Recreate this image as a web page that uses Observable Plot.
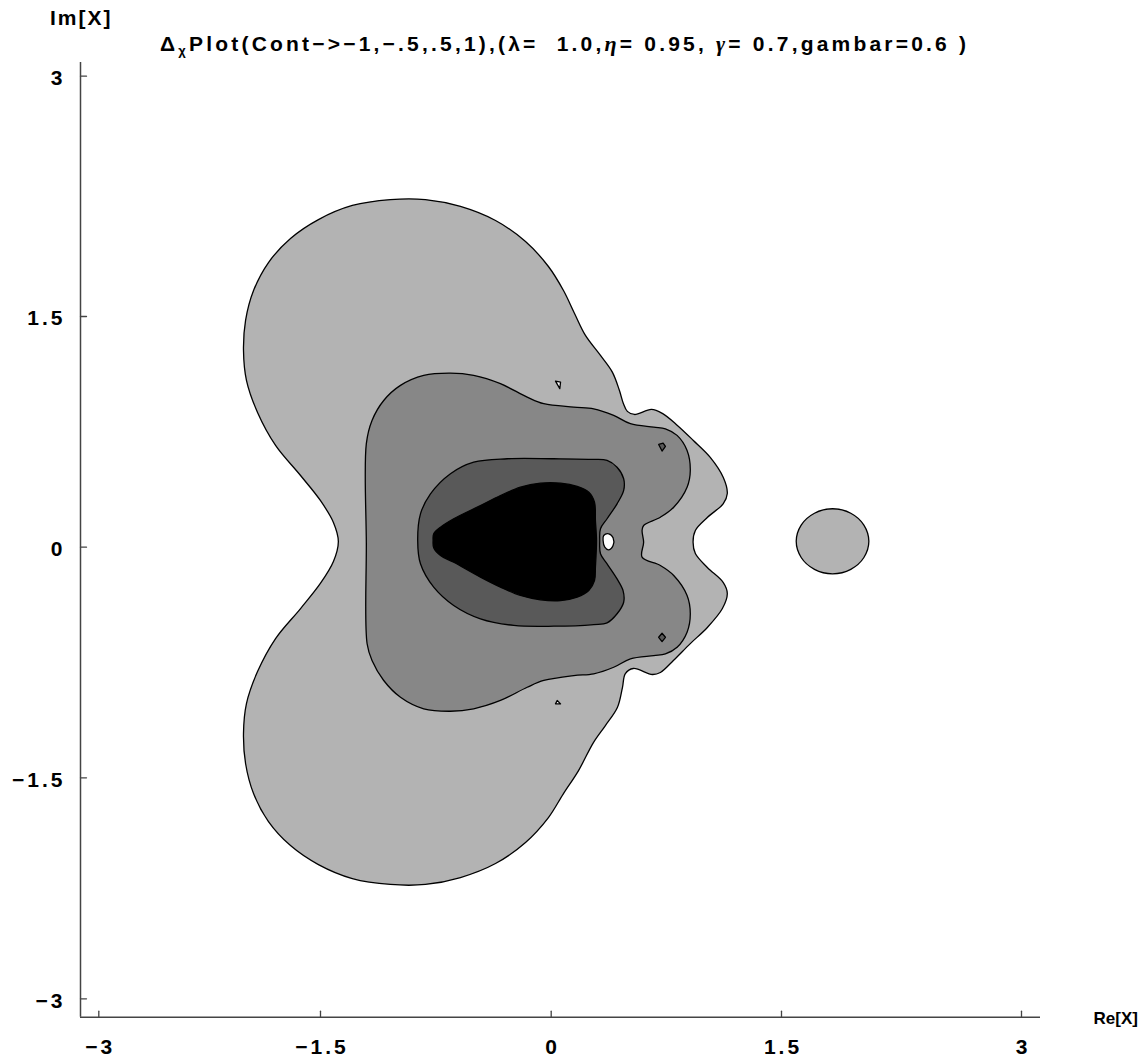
<!DOCTYPE html>
<html><head><meta charset="utf-8">
<script src="https://cdn.jsdelivr.net/npm/d3@7"></script>
<script src="https://cdn.jsdelivr.net/npm/@observablehq/plot@0.6"></script>
<style>
body{margin:0;background:#fff;}
#wrap{position:relative;width:1142px;height:1064px;}
#head{position:relative;height:60px;font-family:"Liberation Sans",Arial,sans-serif;font-weight:bold;white-space:pre;}
#im{position:absolute;left:50px;top:6px;font-size:21px;letter-spacing:2px;}
#title{position:absolute;left:160px;top:31px;font-size:21px;letter-spacing:3.2px;}
#title sub{font-size:13px;vertical-align:-4px;}
#title i{font-style:italic;font-family:"Liberation Serif",serif;font-size:22px;}
#chart text{letter-spacing:3px;}
#chart .rel text{letter-spacing:0px;}
</style></head><body>
<div id="wrap">
<div id="head"><span id="im">Im[X]</span><span id="title">Δ<sub>χ</sub>Plot(Cont−&gt;−1,−.5,.5,1),(λ=  1.0,<i>η</i>= 0.95, <i>γ</i>= 0.7,gambar=0.6 )</span></div>
<div id="chart"></div>
</div>
<script>
// axis ticks and labels
const xTicks = [-3, -1.5, 0, 1.5, 3];
const xTickLabels = ["−3", "−1.5", "0", "1.5", "3"];
const yTicks = [-3, -1.5, 0, 1.5, 3];
const yTickLabels = ["−3", "−1.5", "0", "1.5", "3"];
const plotRangeX = [-3.124, 3.119];
const plotRangeY = [-3.125, 3.086];
const contourLevels = [-1, -0.5, 0.5, 1];

// contour outlines [Re, Im]
const contourLight = [
[-1.384,0.037],[-1.416,0.161],[-1.501,0.304],[-1.635,0.466],[-1.804,0.662],[-1.926,0.876],[-2.001,1.085],[-2.021,1.280],[-2.007,1.475],[-1.953,1.662],[-1.852,1.837],[-1.703,1.987],[-1.514,2.105],[-1.293,2.193],[-1.046,2.230],[-0.818,2.230],[-0.590,2.187],[-0.362,2.099],[-0.167,1.968],[-0.018,1.812],[0.080,1.662],[0.152,1.519],[0.223,1.377],[0.321,1.247],[0.399,1.137],[0.444,1.020],[0.470,0.935],[0.496,0.883],[0.542,0.863],[0.653,0.896],[0.724,0.870],[0.822,0.792],[0.926,0.694],[1.036,0.584],[1.121,0.453],[1.147,0.349],[1.121,0.284],[1.017,0.193],[0.939,0.109],[0.924,0.033],[0.939,-0.041],[1.017,-0.132],[1.121,-0.230],[1.147,-0.301],[1.115,-0.399],[1.017,-0.522],[0.906,-0.627],[0.796,-0.737],[0.711,-0.815],[0.659,-0.828],[0.535,-0.789],[0.483,-0.822],[0.464,-0.913],[0.431,-1.043],[0.353,-1.160],[0.275,-1.271],[0.178,-1.453],[0.080,-1.607],[-0.018,-1.770],[-0.167,-1.939],[-0.362,-2.082],[-0.590,-2.177],[-0.818,-2.224],[-1.046,-2.224],[-1.293,-2.184],[-1.514,-2.089],[-1.703,-1.960],[-1.852,-1.797],[-1.953,-1.607],[-2.007,-1.407],[-2.021,-1.212],[-2.001,-1.017],[-1.926,-0.809],[-1.804,-0.594],[-1.635,-0.399],[-1.501,-0.236],[-1.416,-0.093]
];
const contourLightIsland = [
[2.046,0.038],[2.015,0.144],[1.933,0.221],[1.819,0.250],[1.706,0.221],[1.623,0.144],[1.592,0.038],[1.623,-0.067],[1.706,-0.144],[1.819,-0.173],[1.933,-0.144],[2.015,-0.067]
];
const contourMedium = [
[-1.202,0.673],[-1.165,0.824],[-1.089,0.954],[-0.980,1.052],[-0.829,1.117],[-0.655,1.132],[-0.504,1.117],[-0.330,1.063],[-0.156,0.976],[-0.048,0.933],[0.147,0.911],[0.277,0.900],[0.407,0.857],[0.516,0.803],[0.668,0.781],[0.744,0.770],[0.820,0.727],[0.885,0.629],[0.906,0.499],[0.885,0.390],[0.798,0.260],[0.711,0.195],[0.602,0.141],[0.592,0.109],[0.602,0.033],[0.592,-0.065],[0.711,-0.119],[0.798,-0.184],[0.885,-0.314],[0.906,-0.433],[0.885,-0.553],[0.820,-0.651],[0.744,-0.694],[0.668,-0.705],[0.516,-0.726],[0.407,-0.781],[0.277,-0.824],[0.147,-0.835],[-0.048,-0.867],[-0.156,-0.911],[-0.330,-0.997],[-0.504,-1.051],[-0.655,-1.067],[-0.829,-1.051],[-0.980,-0.976],[-1.089,-0.867],[-1.165,-0.737],[-1.197,-0.628],[-1.202,0.022]
];
const contourDark = [
[-0.286,0.575],[-0.504,0.553],[-0.655,0.478],[-0.785,0.347],[-0.850,0.217],[-0.868,0.044],[-0.850,-0.108],[-0.764,-0.260],[-0.634,-0.379],[-0.460,-0.466],[-0.243,-0.509],[0.017,-0.514],[0.277,-0.503],[0.364,-0.492],[0.429,-0.433],[0.472,-0.358],[0.468,-0.282],[0.429,-0.206],[0.364,-0.108],[0.321,-0.043],[0.316,0.044],[0.321,0.120],[0.364,0.185],[0.429,0.282],[0.472,0.369],[0.472,0.445],[0.429,0.520],[0.364,0.564],[0.277,0.571],[0.017,0.575]
];
const contourBlack = [
[-0.768,0.044],[-0.764,0.087],[-0.720,0.130],[-0.634,0.185],[-0.460,0.271],[-0.330,0.336],[-0.200,0.390],[-0.070,0.416],[0.061,0.416],[0.169,0.395],[0.245,0.358],[0.282,0.293],[0.288,0.174],[0.295,0.044],[0.288,-0.130],[0.282,-0.217],[0.245,-0.282],[0.169,-0.325],[0.061,-0.347],[-0.070,-0.342],[-0.200,-0.314],[-0.330,-0.260],[-0.460,-0.195],[-0.634,-0.098],[-0.720,-0.054],[-0.764,-0.004]
];
const holeCenter = [[0.342,0.076],[0.375,0.087],[0.403,0.061],[0.403,0.011],[0.375,-0.017],[0.349,0.000],[0.338,0.044]];
const holeTop = [[0.028,1.080],[0.061,1.074],[0.056,1.031]];
const holeBottom = [[0.039,-0.997],[0.061,-1.019],[0.028,-1.019]];
const peakTop = [[0.700,0.668],[0.729,0.677],[0.744,0.655],[0.722,0.625]];
const peakBottom = [[0.700,-0.586],[0.722,-0.560],[0.744,-0.586],[0.722,-0.614]];

const rows = pts => pts.map(([re, im]) => ({re, im}));
const font = '"Liberation Sans", Arial, sans-serif';

function shape(pts, fill, curve) {
  return Plot.line(rows(pts), {x: "re", y: "im", fill, stroke: "#000", strokeWidth: 1.3, curve, strokeLinejoin: "round"});
}
const tickUp = {draw(ctx, l) { ctx.moveTo(0, 0); ctx.lineTo(0, -l); }};
const tickRight = {draw(ctx, l) { ctx.moveTo(0, 0); ctx.lineTo(l, 0); }};

const chart = Plot.plot({
  width: 1142,
  height: 1004,
  x: {type: "linear", domain: [plotRangeX[0], -3, -1.5, 0, 1.5, 3, plotRangeX[1]], range: [80, 98.3, 320, 550.7, 781, 1021, 1040], axis: null},
  y: {type: "linear", domain: [plotRangeY[0], -3, -1.5, 0, 1.5, 3, plotRangeY[1]], range: [956.7, 938.3, 717.3, 486.7, 256, 15.7, 2], axis: null},
  style: {fontFamily: font, background: "#fff", overflow: "visible"},
  marks: [
    shape(contourLight, "#b3b3b3", "catmull-rom-closed"),
    shape(contourLightIsland, "#b3b3b3", "catmull-rom-closed"),
    shape(holeTop, "#fff", "linear-closed"),
    shape(holeBottom, "#fff", "linear-closed"),
    shape(contourMedium, "#878787", "catmull-rom-closed"),
    shape(peakTop, "#595959", "linear-closed"),
    shape(peakBottom, "#595959", "linear-closed"),
    shape(contourDark, "#595959", "catmull-rom-closed"),
    shape(contourBlack, "#000", "catmull-rom-closed"),
    shape(holeCenter, "#fff", "catmull-rom-closed"),
    Plot.ruleY([plotRangeY[0]], {x1: plotRangeX[0], x2: plotRangeX[1], stroke: "#444", strokeWidth: 1.5}),
    Plot.ruleX([plotRangeX[0]], {y1: plotRangeY[0], y2: plotRangeY[1], stroke: "#444", strokeWidth: 1.5}),
    Plot.vector(xTicks, {x: d => d, y: plotRangeY[0], length: 6, rotate: 0, anchor: "start", shape: tickUp, stroke: "#444", strokeWidth: 1.3}),
    Plot.vector(yTicks, {x: plotRangeX[0], y: d => d, length: 6, rotate: 0, anchor: "start", shape: tickRight, stroke: "#444", strokeWidth: 1.3}),
    Plot.text(xTicks, {x: d => d, y: plotRangeY[0], text: (d, i) => xTickLabels[i], dx: 1.5, dy: 30, fontSize: 21, fontWeight: "bold", fill: "#000"}),
    Plot.text(yTicks, {x: plotRangeX[0], y: d => d, text: (d, i) => yTickLabels[i], dx: -15, dy: 2, textAnchor: "end", fontSize: 21, fontWeight: "bold", fill: "#000"}),
    Plot.text(["Re[X]"], {x: plotRangeX[1], y: plotRangeY[0], text: d => d, dx: 53, dy: 1, textAnchor: "start", fontSize: 17, fontWeight: "bold", fill: "#000", className: "rel"})
  ]
});
document.getElementById("chart").appendChild(chart);
</script>
</body></html>
